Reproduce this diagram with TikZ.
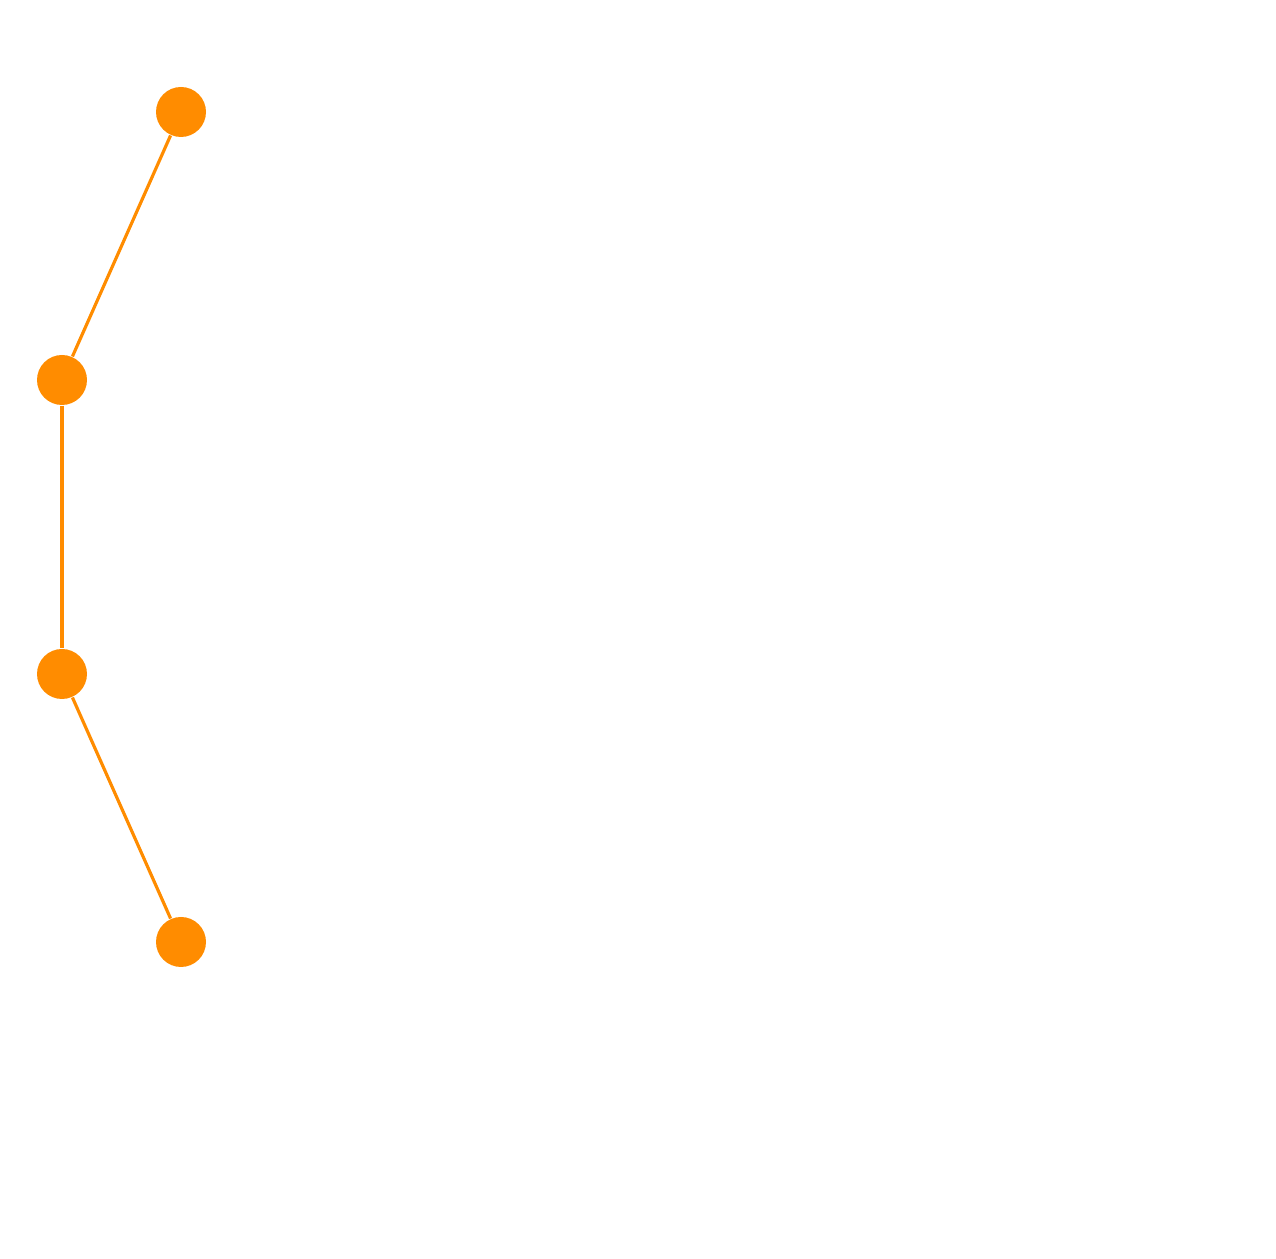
\documentclass[tikz,border=0pt]{standalone}
\usepackage{tikz}
\usetikzlibrary{positioning}
\definecolor{orangeV}{HTML}{FF8C00}
\tikzset{
  vertex/.style={circle, fill=#1, draw=none, minimum size=0.5cm, inner sep=0pt},
  lien/.style={line width=0.9pt, draw=#1},
}
\begin{document}
\begin{tikzpicture}
        \useasboundingbox (0,0) rectangle (12.76,12.59);
        \node[vertex=orangeV] (v1) at (1.81,11.47) {};
        \node[vertex=orangeV] (v2) at (0.62,8.79) {};
        \node[vertex=orangeV] (v3) at (0.62,5.85) {};
        \node[vertex=orangeV] (v4) at (1.81,3.17) {};
        \draw[lien=orangeV] (v1) -- (v2); \draw[lien=orangeV] (v2) -- (v3);
        \draw[lien=orangeV] (v3) -- (v4);
      \end{tikzpicture}
\end{document}
